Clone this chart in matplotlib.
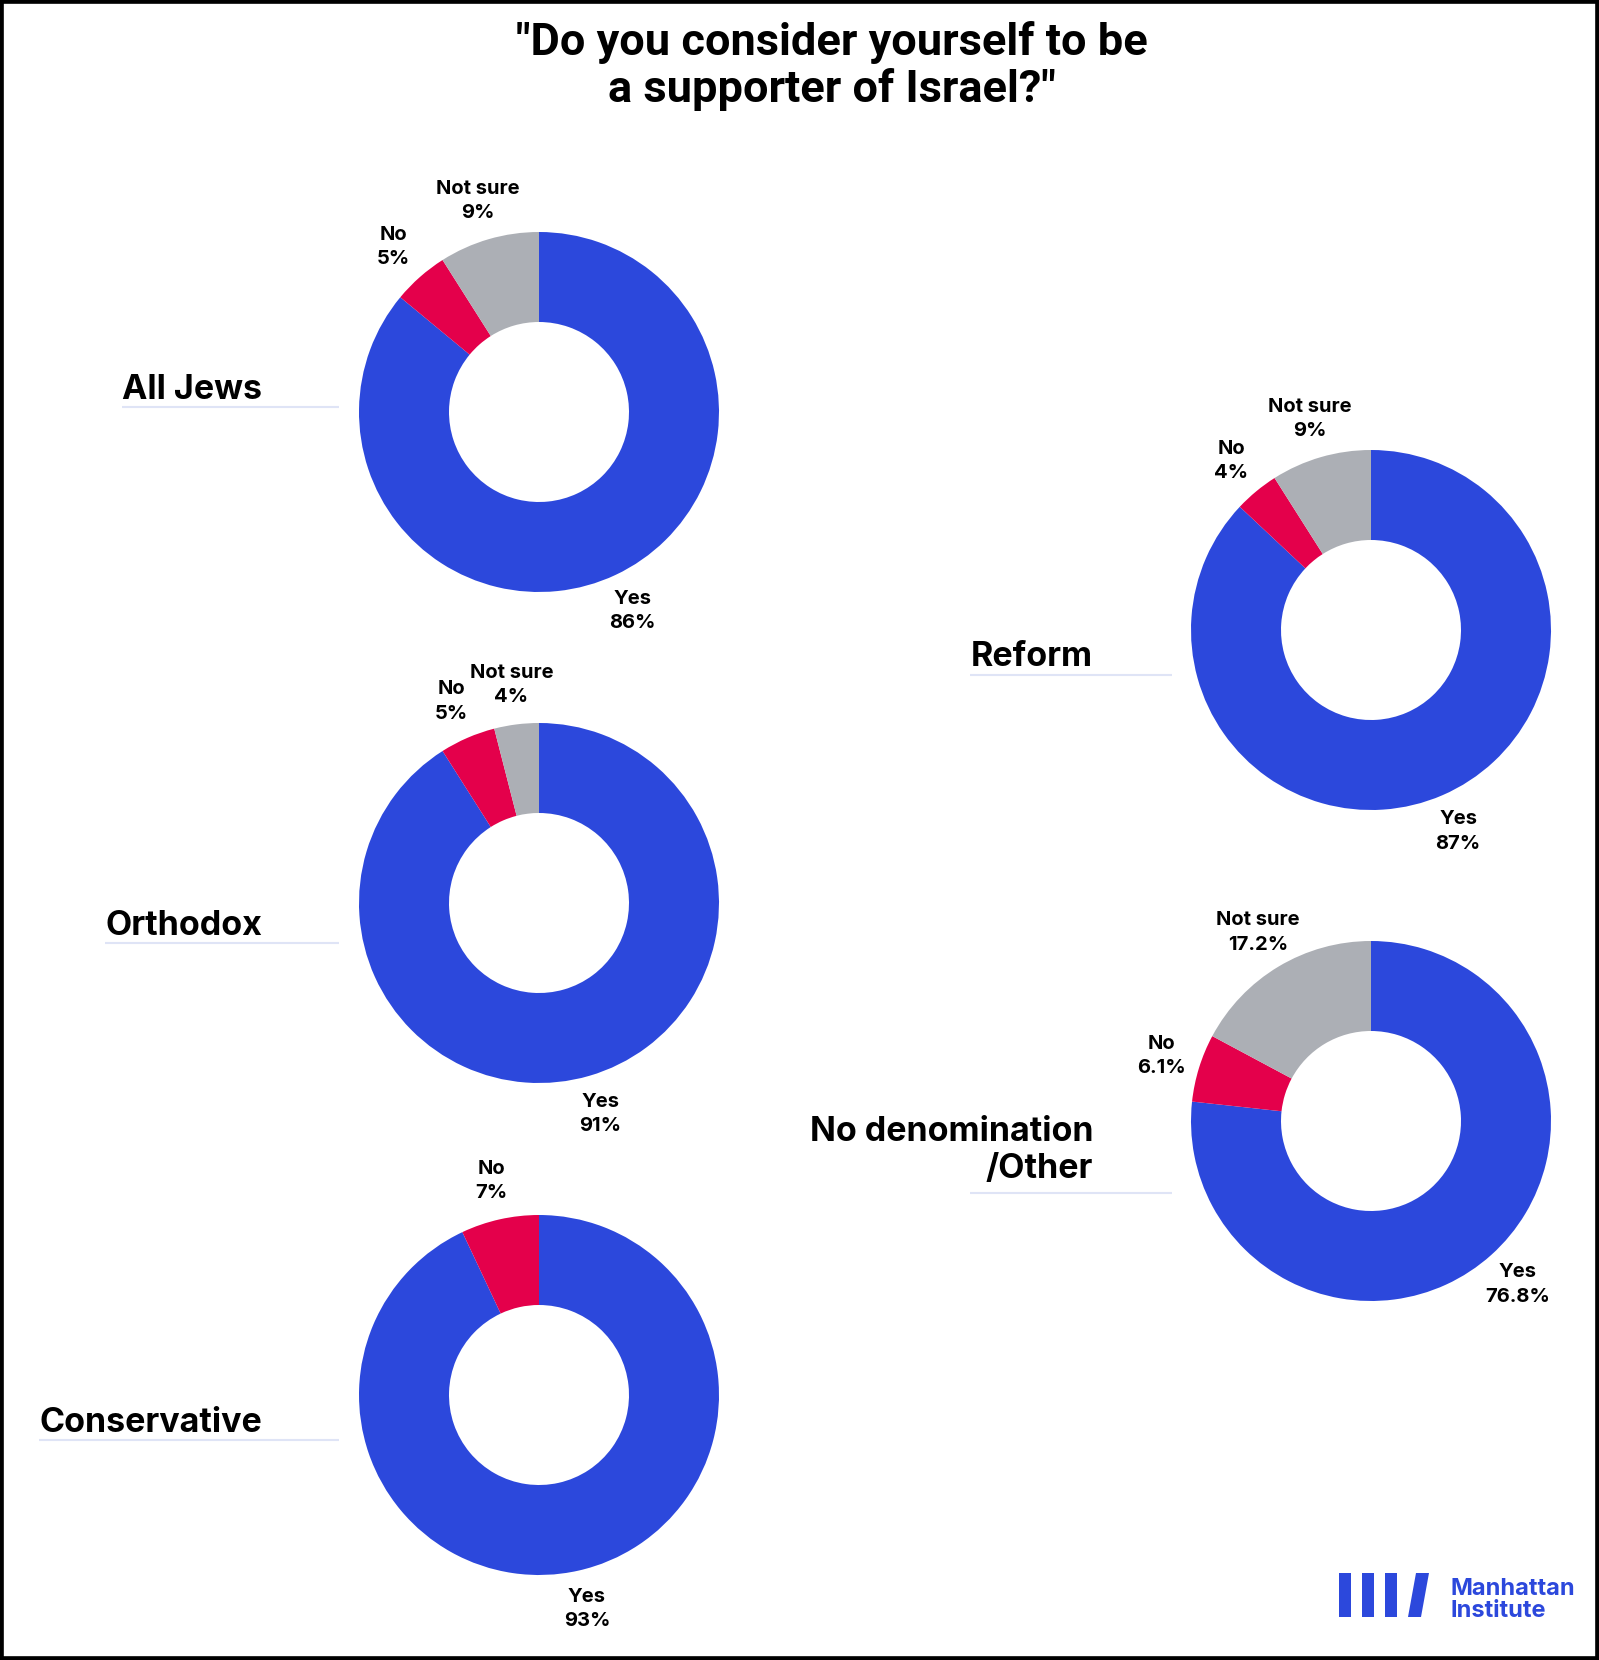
import matplotlib.pyplot as plt
from matplotlib.patches import Rectangle, Polygon

plt.rcParams['font.family'] = ['Inter', 'DejaVu Sans']

W, H = 1599, 1660

# data
title = '"Do you consider yourself to be\na supporter of Israel?"'
groups = ["All Jews", "Orthodox", "Conservative", "Reform", "No denomination\n/Other"]
answers = ["Yes", "No", "Not sure"]
yes_pct = [86, 91, 93, 87, 76.8]
no_pct = [5, 5, 7, 4, 6.1]
not_sure_pct = [9, 4, 0, 9, 17.2]

colors = {"Yes": "#2c48dc", "No": "#e4004b", "Not sure": "#acafb5"}

# layout (pixels, measured from top-left)
centers = [(539, 412), (539, 903), (539, 1395), (1371, 630), (1371, 1121)]
R = 180
label_pos = [(262, 399), (262, 935), (262, 1432), (1093, 666), (1093, 1178)]
line_y = [407, 943, 1440, 675, 1193]
line_x1 = [339, 339, 339, 1172, 1172]

fig = plt.figure(figsize=(W / 100, H / 100), dpi=100)
ax = fig.add_axes([0, 0, 1, 1])

for i, g in enumerate(groups):
    vals = [yes_pct[i], no_pct[i], not_sure_pct[i]]
    keep = [(a, v) for a, v in zip(answers, vals) if v > 0]
    cx, cy = centers[i]
    ax.pie([v for _, v in keep],
           labels=[f"{a}\n{v:g}%" for a, v in keep],
           colors=[colors[a] for a, _ in keep],
           startangle=90, counterclock=False, radius=R,
           center=(cx, H - cy), labeldistance=1.22,
           wedgeprops=dict(width=90, linewidth=0),
           textprops=dict(ha='center', va='center', fontsize=14.5,
                          fontweight='bold', linespacing=1.45))

ax.set_xlim(0, W)
ax.set_ylim(0, H)
ax.set_aspect('auto')
ax.axis('off')

# group names with thin underline
fig.canvas.draw()
renderer = fig.canvas.get_renderer()
for i, g in enumerate(groups):
    x, y = label_pos[i]
    t = ax.text(x, H - y, g, ha='right', va='baseline', fontsize=24.5,
                fontweight='bold', linespacing=1.2)
    if i < 3:
        bb = t.get_window_extent(renderer)
        x0 = ax.transData.inverted().transform((bb.x0, 0))[0]
    else:
        x0 = 970
    ax.plot([x0, line_x1[i]], [H - line_y[i]] * 2, color="#dfe4f6", lw=1.5,
            solid_capstyle='butt')

ax.text(832, H - 66, title, ha='center', va='center', fontsize=32.5,
        fontweight='bold', linespacing=1.1, family=['Roboto', 'DejaVu Sans'])

# logo
blue = "#2c48dc"
for bx in [1339, 1362, 1385]:
    ax.add_patch(Rectangle((bx, H - 1617), 12, 44, color=blue, lw=0))
ax.add_patch(Polygon([(1408, H - 1617), (1421, H - 1617), (1429, H - 1573),
                      (1416, H - 1573)], closed=True, color=blue, lw=0))
ax.text(1450, H - 1595, "Manhattan", ha='left', va='baseline', fontsize=17,
        fontweight='bold', color=blue)
ax.text(1450, H - 1617, "Institute", ha='left', va='baseline', fontsize=17,
        fontweight='bold', color=blue)

# frame
fig.add_artist(Rectangle((0, 0), 1, 1, transform=fig.transFigure, fill=False,
                         lw=5.5, edgecolor='black', clip_on=False))

fig.savefig("out.png", dpi=100)
